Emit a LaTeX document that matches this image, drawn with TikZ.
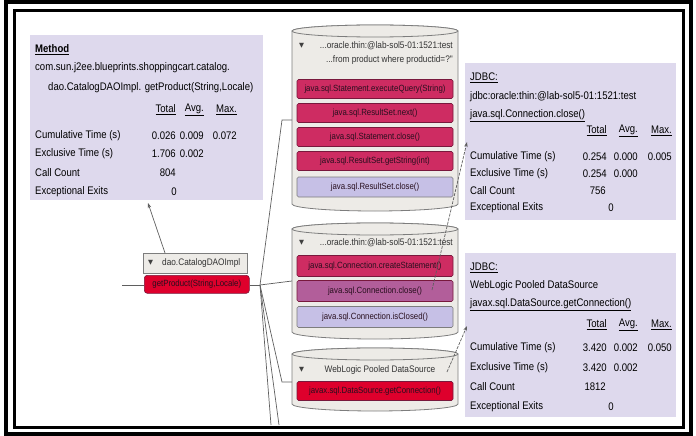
\documentclass[tikz,border=0pt]{standalone}
\usepackage{fontspec}
\setmainfont{Liberation Sans}
\newfontfamily\cond{Liberation Sans}[FakeStretch=0.87]
\newfontfamily\symfont{DejaVu Sans}
\usetikzlibrary{arrows.meta}

\definecolor{lavpanel}{RGB}{222,217,237}
\definecolor{drumfill}{RGB}{237,235,231}
\definecolor{drumline}{RGB}{125,125,125}
\definecolor{crimson}{RGB}{206,44,98}
\definecolor{crimsonline}{RGB}{120,24,60}
\definecolor{mauve}{RGB}{178,94,154}
\definecolor{lavrow}{RGB}{198,192,230}
\definecolor{hotred}{RGB}{222,0,44}
\definecolor{wire}{RGB}{95,95,95}
\definecolor{rowtext}{RGB}{40,15,30}

% a drum: left x, right x, centre y of the lid, lowest y of the straight sides
\newcommand\drawdrum[4]{%
  \pgfmathsetmacro\drumrx{(#2-#1)/2}%
  \pgfmathsetmacro\drumcx{(#2+#1)/2}%
  \filldraw[drum] (#1,#3) -- (#1,#4)
    arc[start angle=180,end angle=360,x radius=\drumrx pt,y radius=7pt]
    -- (#2,#3)
    arc[start angle=0,end angle=180,x radius=\drumrx pt,y radius=6pt] -- cycle;
  \draw[drum] (\drumcx,#3) ellipse[x radius=\drumrx pt,y radius=6pt];
}

\begin{document}
\begin{tikzpicture}[x=1pt,y=-1pt,
  panel/.style={fill=lavpanel,draw=none,inner sep=0,anchor=north west},
  ptext/.style={anchor=west,inner sep=0,font=\cond\fontsize{11}{12}\selectfont},
  pbold/.style={ptext,font=\cond\bfseries\fontsize{11}{12}\selectfont},
  pval/.style={ptext,anchor=east},
  drum/.style={fill=drumfill,draw=drumline,line width=0.8pt},
  row/.style={draw=crimsonline,line width=0.6pt,rounded corners=1.5pt,
    minimum width=156pt,minimum height=19pt,inner sep=0,text=rowtext,
    font=\cond\fontsize{9}{10}\selectfont},
  htext/.style={inner sep=0,text=black!80,font=\cond\fontsize{9.5}{10}\selectfont},
  tri/.style={inner sep=0,text=black!75,font=\symfont\fontsize{6.5}{7}\selectfont},
  conn/.style={draw=wire,line width=0.7pt},
  link/.style={draw=wire,line width=0.7pt,dash pattern=on 3pt off 1.2pt,
    -{Stealth[length=5pt,width=3.5pt]}},
  back/.style={draw=wire,line width=0.7pt,-{Stealth[length=5pt,width=3.5pt]}}
]
\useasboundingbox (0,0) rectangle (696,436);

% double frame
\draw[line width=4pt] (5.5,2.5) rectangle (690.5,434);
\draw[line width=3pt] (14,11) rectangle (683.5,427);

% ---------- method statistics ----------
\node[panel,minimum width=233pt,minimum height=165pt] (method) at (30,35) {};
\node[pbold] (m-title) at (35,50) {\underline{Method}};
\node[ptext] (m-cls1) at (35,68) {com.sun.j2ee.blueprints.shoppingcart.catalog.};
\node[ptext] (m-cls2) at (48,88) {dao.CatalogDAOImpl. getProduct(String,Locale)};
\node[pval] (m-h1) at (176,110) {\underline{Total}};
\node[pval] (m-h2) at (204,110) {\underline{Avg.}};
\node[pval] (m-h3) at (237,110) {\underline{Max.}};
\node[ptext] (m-r1) at (35,136) {Cumulative Time (s)};
\node[ptext] (m-r2) at (35,154) {Exclusive Time (s)};
\node[ptext] (m-r3) at (35,173) {Call Count};
\node[ptext] (m-r4) at (35,192) {Exceptional Exits};
\node[pval] (m-v11) at (176,136) {0.026};
\node[pval] (m-v12) at (204,136) {0.009};
\node[pval] (m-v13) at (237,136) {0.072};
\node[pval] (m-v21) at (176,154) {1.706};
\node[pval] (m-v22) at (204,154) {0.002};
\node[pval] (m-v31) at (176,173) {804};
\node[pval] (m-v41) at (177,192) {0};

% ---------- JDBC statistics, connection ----------
\node[panel,minimum width=211pt,minimum height=157pt] (jdbcA) at (465,63) {};
\node[ptext] (ja-title) at (470,78) {\underline{JDBC:}};
\node[ptext] (ja-url) at (470,97) {jdbc:oracle:thin:@lab-sol5-01:1521:test};
\node[ptext] (ja-call) at (470,116) {\underline{java.sql.Connection.close()}};
\node[pval] (ja-h1) at (607,131) {\underline{Total}};
\node[pval] (ja-h2) at (638,131) {\underline{Avg.}};
\node[pval] (ja-h3) at (672,131) {\underline{Max.}};
\node[ptext] (ja-r1) at (470,157) {Cumulative Time (s)};
\node[ptext] (ja-r2) at (470,174) {Exclusive Time (s)};
\node[ptext] (ja-r3) at (470,191) {Call Count};
\node[ptext] (ja-r4) at (470,208) {Exceptional Exits};
\node[pval] (ja-v11) at (607,157) {0.254};
\node[pval] (ja-v12) at (638,157) {0.000};
\node[pval] (ja-v13) at (672,157) {0.005};
\node[pval] (ja-v21) at (607,174) {0.254};
\node[pval] (ja-v22) at (638,174) {0.000};
\node[pval] (ja-v31) at (606,191) {756};
\node[pval] (ja-v41) at (614,208) {0};

% ---------- JDBC statistics, data source ----------
\node[panel,minimum width=211pt,minimum height=164pt] (jdbcB) at (465,253) {};
\node[ptext] (jb-title) at (470,268) {\underline{JDBC:}};
\node[ptext] (jb-src) at (470,286) {WebLogic Pooled DataSource};
\node[ptext] (jb-call) at (470,305) {\underline{javax.sql.DataSource.getConnection()}};
\node[pval] (jb-h1) at (607,325) {\underline{Total}};
\node[pval] (jb-h2) at (638,325) {\underline{Avg.}};
\node[pval] (jb-h3) at (672,325) {\underline{Max.}};
\node[ptext] (jb-r1) at (470,348) {Cumulative Time (s)};
\node[ptext] (jb-r2) at (470,368) {Exclusive Time (s)};
\node[ptext] (jb-r3) at (470,387) {Call Count};
\node[ptext] (jb-r4) at (470,407) {Exceptional Exits};
\node[pval] (jb-v11) at (607,348) {3.420};
\node[pval] (jb-v12) at (638,348) {0.002};
\node[pval] (jb-v13) at (672,348) {0.050};
\node[pval] (jb-v21) at (607,368) {3.420};
\node[pval] (jb-v22) at (638,368) {0.002};
\node[pval] (jb-v31) at (606,387) {1812};
\node[pval] (jb-v41) at (614,407) {0};

% ---------- drum 1: query statement ----------
\drawdrum{292}{458}{31}{204}
\node[tri,anchor=west] (da-tri) at (299,46) {▼};
\node[htext,anchor=east] (da-h1) at (453,46) {...oracle.thin:@lab-sol5-01:1521:test};
\node[htext,anchor=east] (da-h2) at (453,60) {...from product where productid=?"};
\node[row,fill=crimson] (da-r1) at (375,89) {java.sql.Statement.executeQuery(String)};
\node[row,fill=crimson] (da-r2) at (375,113) {java.sql.ResultSet.next()};
\node[row,fill=crimson] (da-r3) at (375,137) {java.sql.Statement.close()};
\node[row,fill=crimson] (da-r4) at (375,161) {java.sql.ResultSet.getString(int)};
\node[row,fill=lavrow,draw=drumline,minimum height=20pt] (da-r5) at (375,187) {java.sql.ResultSet.close()};

% ---------- drum 2: connection ----------
\drawdrum{292}{458}{229}{332}
\node[tri,anchor=west] (db-tri) at (299,243) {▼};
\node[htext,anchor=east] (db-h1) at (453,243) {...oracle.thin:@lab-sol5-01:1521:test};
\node[row,fill=crimson,minimum height=21pt] (db-r1) at (375,266) {java.sql.Connection.createStatement()};
\node[row,fill=mauve,minimum height=21pt] (db-r2) at (375,291) {java.sql.Connection.close()};
\node[row,fill=lavrow,draw=drumline,minimum height=21pt] (db-r3) at (375,317) {java.sql.Connection.isClosed()};

% ---------- drum 3: pooled data source ----------
\drawdrum{292}{458}{354}{404}
\node[tri,anchor=west] (dc-tri) at (299,370) {▼};
\node[htext] (dc-h1) at (380,370) {WebLogic Pooled DataSource};
\node[row,fill=hotred] (dc-r1) at (375,391) {javax.sql.DataSource.getConnection()};

% ---------- the traced method ----------
\node[fill=drumfill,draw=drumline,line width=0.8pt,minimum width=104pt,
  minimum height=20pt,inner sep=0,anchor=north west] (dao-head) at (143,253) {};
\node[tri,anchor=west] (dao-tri) at (148,263) {▼};
\node[htext,anchor=west] (dao-name) at (162,263) {dao.CatalogDAOImpl};
\node[row,fill=hotred,minimum width=105pt,minimum height=18pt,rounded corners=3pt,
  anchor=north west] (dao-row) at (144,275) {getProduct(String,Locale)};

% ---------- connectors ----------
\coordinate (caller) at (122,285);
\coordinate (fork) at (260,285);
\coordinate (bendA) at (282,120);
\coordinate (drumA-in) at (292,120);
\coordinate (drumB-in) at (292,281);
\coordinate (bendC) at (282,382);
\coordinate (drumC-in) at (292,382);
\coordinate (more1) at (271,425);
\coordinate (more2) at (279,425);
\coordinate (method-in) at (148,203);
\coordinate (dao-out) at (165,253);
\coordinate (db-out) at (432,290);
\coordinate (jdbcA-in) at (467,142);
\coordinate (dc-out) at (447,372);
\coordinate (jdbcB-in) at (467,326);

\draw[conn] (caller) -- (dao-row.west |- caller);
\draw[conn] (dao-row.east |- fork) -- (fork);
\draw[conn] (fork) -- (bendA) -- (drumA-in);
\draw[conn] (fork) -- (drumB-in);
\draw[conn] (fork) -- (bendC) -- (drumC-in);
\draw[conn] (fork) -- (more1);
\draw[conn] (fork) -- (more2);
\draw[back] (dao-out) -- (method-in);
\draw[link] (db-out) -- (jdbcA-in);
\draw[link] (dc-out) -- (jdbcB-in);
\end{tikzpicture}
\end{document}
